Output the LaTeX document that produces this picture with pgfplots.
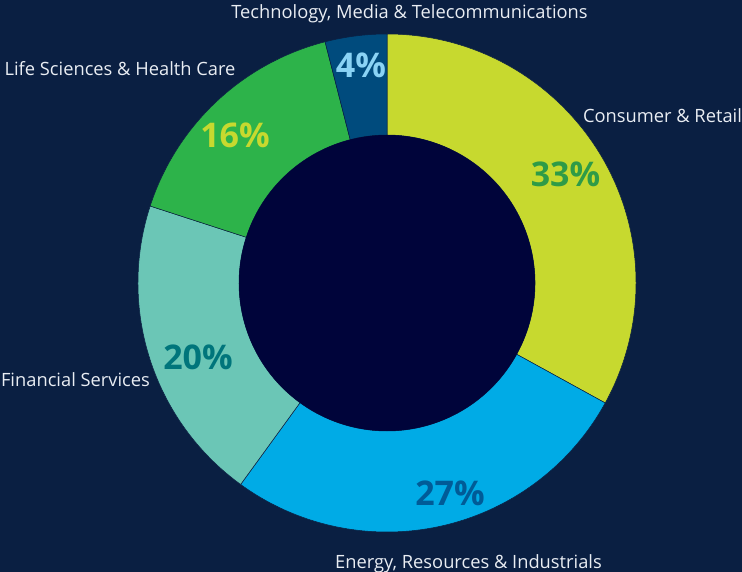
\documentclass[border=0pt]{standalone}
\usepackage{pgfplots}
\pgfplotsset{compat=1.18}
\usepackage{pgfplotstable}
\usepackage{fontspec}
\setmainfont{Open Sans}
\definecolor{bg}{HTML}{0A1F42}
\definecolor{hole}{HTML}{00043A}
\definecolor{c0}{HTML}{C7D92F}
\definecolor{c1}{HTML}{00ABE6}
\definecolor{c2}{HTML}{6BC6B6}
\definecolor{c3}{HTML}{2DB34A}
\definecolor{c4}{HTML}{004B7D}
\definecolor{t0}{HTML}{2E9B47}
\definecolor{t1}{HTML}{005B97}
\definecolor{t2}{HTML}{00757B}
\definecolor{t3}{HTML}{C7D92F}
\definecolor{t4}{HTML}{8AD3F5}
\definecolor{lbl}{HTML}{E9EDF3}

% share (%) and label position (px, pixel y from top)
\pgfplotstableread{
value px    py
33    565.5 186.7
27    450   505
20    198   369
16    235   148
4     361   78
}\slices

\def\cumsum{0}
\pgfplotsforeachungrouped \i in {0,...,4}{%
  \pgfplotstablegetelem{\i}{value}\of\slices
  \let\val\pgfplotsretval
  \pgfmathsetmacro\a{90-3.6*\cumsum}%
  \pgfmathsetmacro\b{90-3.6*(\cumsum+\val)}%
  \expandafter\xdef\csname sa\i\endcsname{\a}%
  \expandafter\xdef\csname sb\i\endcsname{\b}%
  \pgfmathtruncatemacro\vv{\val}%
  \expandafter\xdef\csname v\i\endcsname{\vv}%
  \pgfplotstablegetelem{\i}{px}\of\slices
  \expandafter\xdef\csname px\i\endcsname{\pgfplotsretval}%
  \pgfplotstablegetelem{\i}{py}\of\slices
  \expandafter\xdef\csname py\i\endcsname{\pgfplotsretval}%
  \pgfmathsetmacro\cumsum{\cumsum+\val}%
  \xdef\cumsum{\cumsum}%
}

\begin{document}
\begin{tikzpicture}
\begin{axis}[scale only axis, width=742pt, height=572pt,
  xmin=0, xmax=742, ymin=0, ymax=572, y dir=reverse,
  hide axis, clip=false]
\fill[bg] (axis cs:0,0) rectangle (axis cs:742,572);
\coordinate (ctr) at (axis cs:387,283);
\pgfplotsinvokeforeach{0,...,4}{%
  \edef\tmp{\noexpand\fill[c#1, draw=bg, line width=0.5pt]
    ([shift={(\csname sa#1\endcsname:249pt)}]ctr)
    arc[start angle=\csname sa#1\endcsname, end angle=\csname sb#1\endcsname, radius=249pt]
    -- ([shift={(\csname sb#1\endcsname:148pt)}]ctr)
    arc[start angle=\csname sb#1\endcsname, end angle=\csname sa#1\endcsname, radius=148pt]
    -- cycle;}\tmp
}
\fill[hole] (ctr) circle[radius=148pt];
\pgfplotsinvokeforeach{0,...,4}{%
  \edef\tmp{\noexpand\node[anchor=base, text=t#1, font=\noexpand\fontsize{34}{40}\noexpand\selectfont\noexpand\bfseries, inner sep=0pt]
    at (axis cs:\csname px#1\endcsname,\csname py#1\endcsname) {\csname v#1\endcsname\noexpand\%};}\tmp
}
\begin{scope}[every node/.style={anchor=base, text=lbl, inner sep=0pt, font=\fontsize{18.3}{22}\selectfont}]
\node at (axis cs:409.5,19) {Technology, Media \& Telecommunications};
\node at (axis cs:662.5,122.7) {Consumer \& Retail};
\node at (axis cs:120,76) {Life Sciences \& Health Care};
\node at (axis cs:75.5,386.7) {Financial Services};
\node at (axis cs:468.5,568) {Energy, Resources \& Industrials};
\end{scope}
\end{axis}
\pgfresetboundingbox
\useasboundingbox (current axis.south west) rectangle (current axis.north east);
\end{tikzpicture}
\end{document}
